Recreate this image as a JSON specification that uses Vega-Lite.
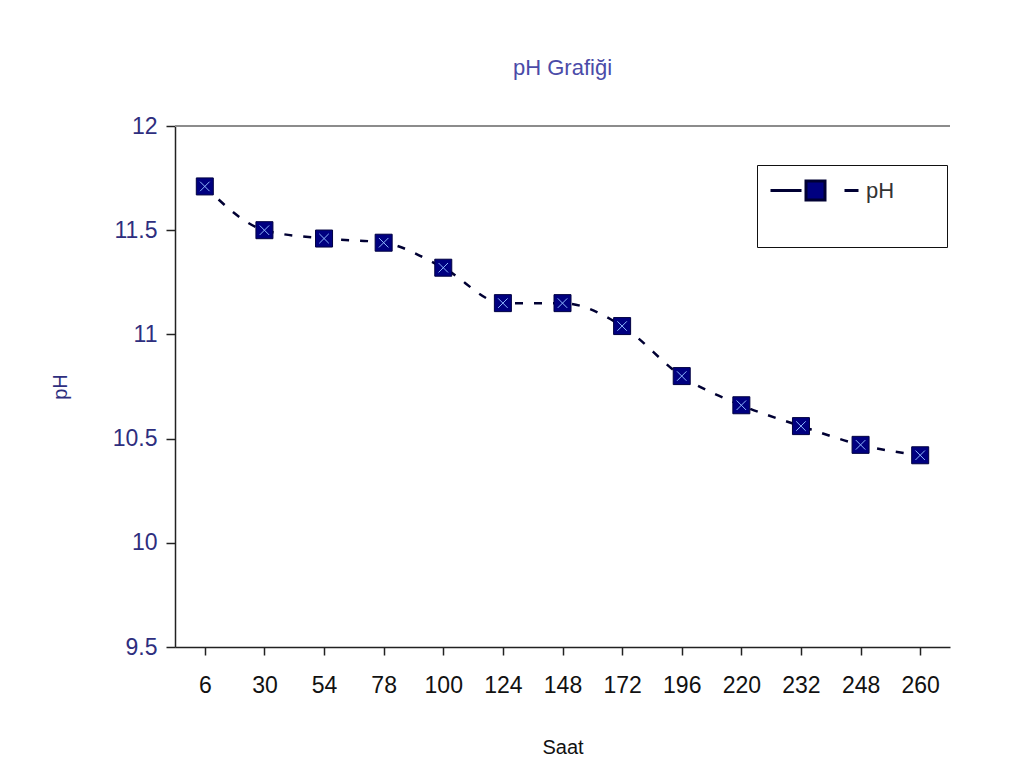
{
  "$schema": "https://vega.github.io/schema/vega-lite/v6.json",
  "width": 775,
  "height": 521,
  "autosize": "none",
  "padding": {"left": 175, "top": 126, "right": 82, "bottom": 135},
  "background": "white",
  "config": {
    "font": "Liberation Sans",
    "view": {"stroke": null}
  },
  "title": {
    "text": "pH Grafiği",
    "fontSize": 22,
    "fontWeight": "normal",
    "color": "#4b4ba8",
    "anchor": "middle",
    "baseline": "bottom",
    "offset": 13
  },
  "data": {
    "values": [
      {"Saat": "6", "pH": 11.71},
      {"Saat": "30", "pH": 11.5},
      {"Saat": "54", "pH": 11.46},
      {"Saat": "78", "pH": 11.44},
      {"Saat": "100", "pH": 11.32},
      {"Saat": "124", "pH": 11.15},
      {"Saat": "148", "pH": 11.15},
      {"Saat": "172", "pH": 11.04},
      {"Saat": "196", "pH": 10.8},
      {"Saat": "220", "pH": 10.66},
      {"Saat": "232", "pH": 10.56},
      {"Saat": "248", "pH": 10.47},
      {"Saat": "260", "pH": 10.42}
    ]
  },
  "encoding": {
    "x": {
      "field": "Saat",
      "type": "ordinal",
      "sort": null,
      "scale": {"paddingInner": 0, "paddingOuter": 0},
      "axis": {
        "bandPosition": 1,
        "labelAngle": 0,
        "labelFontSize": 23,
        "labelColor": "#111111",
        "labelPadding": 19,
        "tickSize": 8,
        "tickColor": "#222222",
        "domainColor": "#222222",
        "domainWidth": 1.5,
        "tickWidth": 1.5,
        "grid": false,
        "title": "Saat",
        "titleFontSize": 20,
        "titleFontWeight": "normal",
        "titleColor": "#111111",
        "titlePadding": 40
      }
    },
    "y": {
      "field": "pH",
      "type": "quantitative",
      "scale": {"domain": [9.5, 12], "nice": false, "zero": false},
      "axis": {
        "values": [9.5, 10, 10.5, 11, 11.5, 12],
        "format": "~g",
        "grid": false,
        "labelFontSize": 23,
        "labelColor": "#2e2e7e",
        "labelPadding": 9,
        "tickSize": 9,
        "tickColor": "#222222",
        "tickWidth": 1.5,
        "domainColor": "#222222",
        "domainWidth": 1.5,
        "title": "pH",
        "titleFontSize": 20,
        "titleFontWeight": "normal",
        "titleColor": "#2e2e7e",
        "titlePadding": 42
      }
    }
  },
  "layer": [
    {
      "mark": {"type": "rule", "color": "#8c8c8c", "strokeWidth": 2},
      "encoding": {"y": {"datum": 12}, "x": null}
    },
    {
      "mark": {"type": "line", "strokeWidth": 2.5, "strokeDash": [8, 11], "interpolate": "monotone"},
      "encoding": {
        "color": {
          "datum": "pH",
          "scale": {"range": ["#000033"]},
          "legend": {
            "orient": "none",
            "legendX": 582,
            "legendY": 39,
            "title": "\u00a0",
            "titleOrient": "right",
            "titleFontSize": 81,
            "titlePadding": 39,
            "padding": 14,
            "strokeColor": "#111111",
            "fillColor": "white",
            "symbolType": "M-7.8,0H-4.7M-4.25,-0.95H-2.35V0.95H-4.25ZM-0.4,0H1",
            "symbolSize": 400,
            "symbolOffset": 66,
            "symbolStrokeWidth": 3,
            "symbolStrokeColor": "#000080",
            "symbolFillColor": "#000080",
            "labelFontSize": 22,
            "labelColor": "#333333",
            "labelOffset": 6
          }
        }
      }
    },
    {
      "mark": {"type": "point", "shape": "square", "filled": true, "size": 289, "color": "#000080", "stroke": "#000040", "strokeWidth": 1, "opacity": 1}
    },
    {
      "mark": {"type": "point", "shape": "M-1,-1L1,1M-1,1L1,-1", "filled": false, "size": 90, "stroke": "#8fb8ff", "strokeWidth": 1, "opacity": 1}
    }
  ]
}
